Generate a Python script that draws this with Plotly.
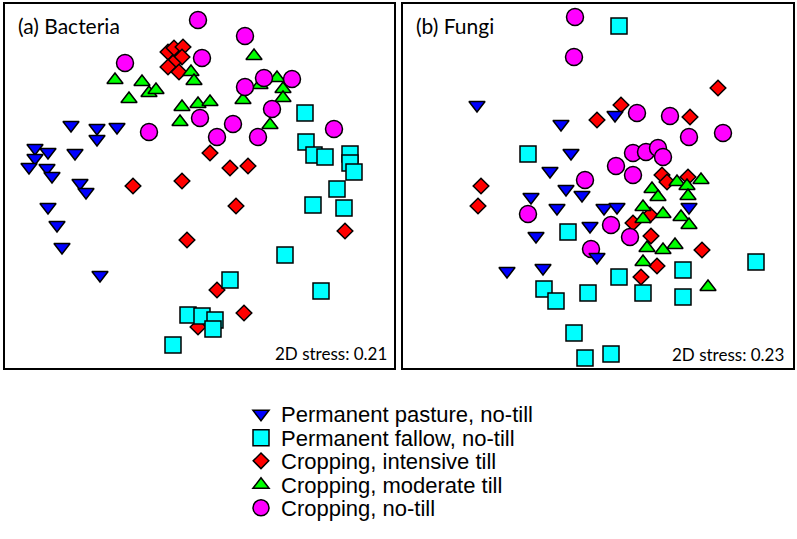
import plotly.graph_objects as go

# NMDS scores (arbitrary units)
groups = ["Permanent pasture, no-till", "Permanent fallow, no-till",
          "Cropping, intensive till", "Cropping, moderate till", "Cropping, no-till"]

# (a) Bacteria
bac_pasture_x = [71, 97, 97, 117, 35, 48, 35, 29, 47, 52, 75, 80, 86, 48, 57, 62, 100]
bac_pasture_y = [125, 128, 139, 127, 148, 152, 158, 167, 168, 176, 153, 183, 192, 207, 225, 247, 275]
bac_fallow_x = [305, 306, 314, 325, 350, 350, 354, 337, 313, 344, 285, 321, 230, 188, 202, 215, 213, 173]
bac_fallow_y = [113, 142, 155, 157, 154, 163, 172, 189, 205, 208, 255, 291, 280, 315, 316, 320, 329, 345]
bac_intensive_x = [168, 174, 183, 182, 173, 168, 179, 210, 230, 248, 182, 133, 236, 187, 345, 217, 244, 198]
bac_intensive_y = [52, 48, 47, 57, 63, 67, 72, 153, 168, 166, 181, 186, 206, 240, 231, 290, 313, 327]
bac_moderate_x = [115, 142, 149, 156, 129, 182, 180, 191, 194, 198, 210, 254, 243, 260, 277, 283, 283, 270]
bac_moderate_y = [80, 82, 93, 90, 99, 107, 122, 72, 81, 104, 102, 56, 100, 85, 78, 89, 98, 125]
bac_notill_x = [198, 245, 125, 202, 264, 292, 245, 200, 233, 272, 149, 217, 258, 334]
bac_notill_y = [20, 36, 63, 58, 78, 79, 87, 118, 124, 109, 132, 137, 137, 129]

# (b) Fungi
fun_pasture_x = [477, 561, 615, 571, 550, 566, 582, 531, 557, 536, 590, 507, 543, 597, 604, 617, 689]
fun_pasture_y = [105, 124, 115, 153, 171, 189, 195, 197, 208, 236, 226, 271, 268, 257, 208, 207, 207]
fun_fallow_x = [619, 528, 568, 544, 556, 588, 574, 585, 611, 619, 683, 643, 683, 756]
fun_fallow_y = [26, 154, 232, 289, 301, 293, 333, 358, 354, 277, 270, 293, 297, 262]
fun_intensive_x = [718, 621, 597, 690, 481, 478, 662, 667, 688, 633, 650, 651, 702, 657, 641]
fun_intensive_y = [88, 105, 120, 117, 186, 206, 175, 182, 177, 223, 215, 236, 250, 266, 277]
fun_moderate_x = [677, 701, 687, 652, 658, 688, 643, 663, 681, 689, 643, 647, 663, 675, 643, 708]
fun_moderate_y = [182, 180, 186, 189, 197, 196, 207, 214, 217, 225, 219, 248, 250, 245, 262, 287]
fun_notill_x = [575, 574, 637, 670, 689, 723, 633, 646, 658, 663, 616, 633, 585, 528, 611, 630, 591]
fun_notill_y = [17, 57, 113, 116, 137, 133, 153, 152, 148, 157, 166, 175, 180, 214, 225, 237, 249]

symbols = ["triangle-down", "square", "diamond", "triangle-up", "circle"]
colors = ["#0000FF", "#00FFFF", "#FF0000", "#00FF00", "#FF00FF"]
sizes = [14, 16, 12, 14, 17]
stress = ["2D stress: 0.21", "2D stress: 0.23"]
panel_titles = ["(a) Bacteria", "(b) Fungi"]

bac = [(bac_pasture_x, bac_pasture_y), (bac_fallow_x, bac_fallow_y),
       (bac_intensive_x, bac_intensive_y), (bac_moderate_x, bac_moderate_y),
       (bac_notill_x, bac_notill_y)]
fun = [(fun_pasture_x, fun_pasture_y), (fun_fallow_x, fun_fallow_y),
       (fun_intensive_x, fun_intensive_y), (fun_moderate_x, fun_moderate_y),
       (fun_notill_x, fun_notill_y)]

W, H = 797, 539
fig = go.Figure()
draw_order = [2, 1, 3, 4, 0]
legend_names = ["legend", "legend2", "legend3", "legend4", "legend5"]
for i in draw_order:
    for p, data in enumerate([bac, fun]):
        fig.add_trace(go.Scatter(
            x=data[i][0], y=data[i][1], mode="markers", name=groups[i],
            xaxis="x" if p == 0 else "x2", yaxis="y" if p == 0 else "y2",
            marker=dict(symbol=symbols[i], color=colors[i], size=sizes[i],
                        line=dict(color="black", width=1.5)),
            showlegend=(p == 0), legend=legend_names[i]))

ax = dict(showgrid=False, zeroline=False, showticklabels=False, ticks="",
          showline=True, linecolor="black", linewidth=2, mirror=True)
ydom = [1 - 368 / H, 1 - 4 / H]
layout = dict(
    width=W, height=H, margin=dict(l=0, r=0, t=0, b=0),
    paper_bgcolor="white", plot_bgcolor="white",
    xaxis=dict(domain=[5 / W, 394 / W], range=[5, 394], **ax),
    yaxis=dict(domain=ydom, range=[368, 4], **ax),
    xaxis2=dict(domain=[403 / W, 793 / W], range=[403, 793], **ax),
    yaxis2=dict(domain=ydom, range=[368, 4], anchor="x2", **ax),
    annotations=[
        dict(text=panel_titles[0], x=16 / W, y=1 - 25 / H, xref="paper", yref="paper",
             xanchor="left", yanchor="middle", showarrow=False,
             font=dict(family="Lato", size=21, color="black")),
        dict(text=panel_titles[1], x=414 / W, y=1 - 25 / H, xref="paper", yref="paper",
             xanchor="left", yanchor="middle", showarrow=False,
             font=dict(family="Lato", size=21, color="black")),
        dict(text=stress[0], x=389 / W, y=1 - 353 / H, xref="paper", yref="paper",
             xanchor="right", yanchor="middle", showarrow=False,
             font=dict(family="Lato", size=17, color="black")),
        dict(text=stress[1], x=786 / W, y=1 - 354 / H, xref="paper", yref="paper",
             xanchor="right", yanchor="middle", showarrow=False,
             font=dict(family="Lato", size=17, color="black")),
    ],
)
rows = [414, 438, 461, 485, 508]
for k, name in enumerate(legend_names):
    layout[name] = dict(x=241 / W, y=1 - rows[k] / H, xanchor="left", yanchor="middle",
                        bgcolor="rgba(0,0,0,0)", borderwidth=0,
                        font=dict(family="Liberation Sans", size=22, color="black"))
fig.update_layout(**layout)
fig.write_html("out.html", config={"displayModeBar": False},
               post_script="document.body.style.margin='0';document.body.style.padding='0';")
